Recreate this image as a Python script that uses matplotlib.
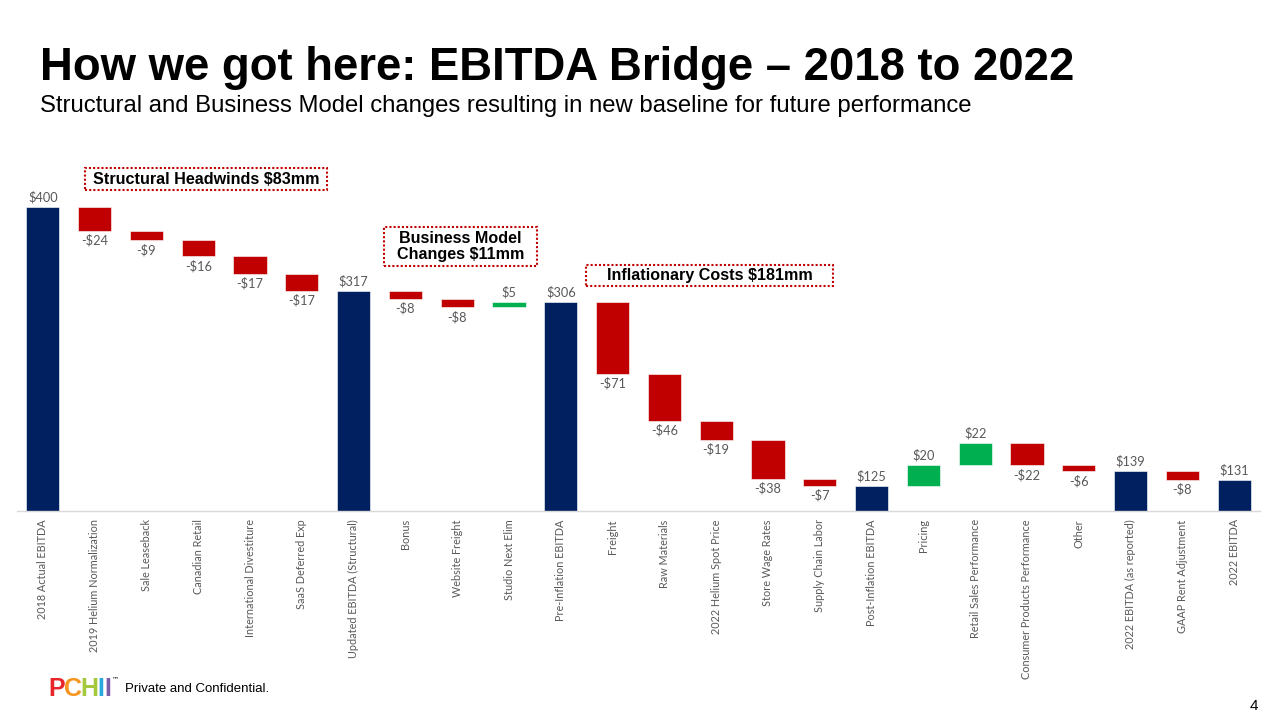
import matplotlib.pyplot as plt
from matplotlib.patches import FancyBboxPatch

# categories and step values (totals are absolute levels)
categories = ["2018 Actual EBITDA", "2019 Helium Normalization", "Sale Leaseback",
              "Canadian Retail", "International Divestiture", "SaaS Deferred Exp",
              "Updated EBITDA (Structural)", "Bonus", "Website Freight", "Studio Next Elim",
              "Pre-Inflation EBITDA", "Freight", "Raw Materials", "2022 Helium Spot Price",
              "Store Wage Rates", "Supply Chain Labor", "Post-Inflation EBITDA", "Pricing",
              "Retail Sales Performance", "Consumer Products Performance", "Other",
              "2022 EBITDA (as reported)", "GAAP Rent Adjustment", "2022 EBITDA"]
values = [400, -24, -9, -16, -17, -17, 317, -8, -8, 5, 306, -71, -46, -19, -38, -7,
          125, 20, 22, -22, -6, 139, -8, 131]
is_total = [True, False, False, False, False, False, True, False, False, False, True,
            False, False, False, False, False, True, False, False, False, False, True,
            False, True]

NAVY = "#002060"
RED = "#C00000"
GREEN = "#00B050"
GREY = "#595959"
base_y = 100

fig = plt.figure(figsize=(12.8, 7.2), dpi=100)
ax = fig.add_axes([17 / 1280, 1 - 511 / 720, (1260 - 17) / 1280, (511 - 165) / 720])

level = 0
for i, v in enumerate(values):
    if is_total[i]:
        bottom, height, col = base_y, v - base_y, NAVY
        level = v
        top = v
        lbl = f"${v}"
    else:
        if v < 0:
            bottom, height, col = level + v, -v, RED
        else:
            bottom, height, col = level, v, GREEN
        level += v
        top = bottom + height
        lbl = f"-${-v}" if v < 0 else f"${v}"
    ax.bar(i, height, bottom=bottom, width=0.64, color=col, edgecolor="white", linewidth=0.4, zorder=2)
    if is_total[i] or v > 0:
        ax.annotate(lbl, (i, top), xytext=(0, 2.5), textcoords="offset points",
                    ha="center", va="bottom", fontsize=9.2, color=GREY, family="Lato")
    else:
        ax.annotate(lbl, (i, bottom), xytext=(0, -2.5), textcoords="offset points",
                    ha="center", va="top", fontsize=9.2, color=GREY, family="Lato")

ax.set_xlim(-0.5, len(values) - 0.5)
ax.set_ylim(base_y, 441)
ax.set_xticks(range(len(categories)))
ax.set_xticklabels(categories, rotation=90, fontsize=7.8, color=GREY, family="Lato")
ax.tick_params(axis="x", length=0, pad=6)
ax.set_yticks([])
for s in ["top", "left", "right"]:
    ax.spines[s].set_visible(False)
ax.spines["bottom"].set_color("#D9D9D9")
ax.spines["bottom"].set_linewidth(1.0)
ax.spines["bottom"].set_zorder(3)

# title block
fig.text(40 / 1280, 1 - 68 / 720, "How we got here: EBITDA Bridge \u2013 2018 to 2022",
         fontsize=32.8, fontweight="bold", family="Liberation Sans", va="center", ha="left")
fig.text(40 / 1280, 1 - 106 / 720,
         "Structural and Business Model changes resulting in new baseline for future performance",
         fontsize=17.2, family="Liberation Sans", va="center", ha="left")

# dotted annotation boxes
boxes = [
    ((85, 168, 327, 190), "Structural Headwinds $83mm"),
    ((384, 227, 537, 266), "Business Model\nChanges $11mm"),
    ((586, 265, 833, 286), "Inflationary Costs $181mm"),
]
for (x0, y0, x1, y1), txt in boxes:
    fx0, fy0 = x0 / 1280, 1 - y1 / 720
    w, h = (x1 - x0) / 1280, (y1 - y0) / 720
    fig.patches.append(FancyBboxPatch((fx0, fy0), w, h, boxstyle="square,pad=0",
                                      transform=fig.transFigure, facecolor="white",
                                      edgecolor=RED, linestyle=(0, (1, 1)), linewidth=1.5))
    fig.text(fx0 + w / 2, fy0 + h / 2, txt, ha="center", va="center", fontsize=11.6,
             fontweight="bold", family="Liberation Sans", linespacing=1.1)

# footer: logo letters and note
logo = [("P", "#E8262A"), ("C", "#F7941D"), ("H", "#A6C83C"), ("I", "#29A9E0"), ("I", "#7B5EA7")]
xpos = [48, 64, 80, 97, 104]
for (ch, c), xp in zip(logo, xpos):
    fig.text(xp / 1280, 1 - 689 / 720, ch, color=c, fontsize=18, fontweight="bold",
             family="Liberation Sans", va="center", ha="left")
fig.text(112 / 1280, 1 - 679 / 720, "\u2122", fontsize=5, family="DejaVu Sans",
         va="center", ha="left")
fig.text(125 / 1280, 1 - 689 / 720, "Private and Confidential.", fontsize=9.5,
         family="Liberation Sans", va="center", ha="left")
fig.text(1258 / 1280, 1 - 706 / 720, "4", fontsize=11, family="Liberation Sans",
         va="center", ha="right")

fig.savefig("out.png", dpi=100)
